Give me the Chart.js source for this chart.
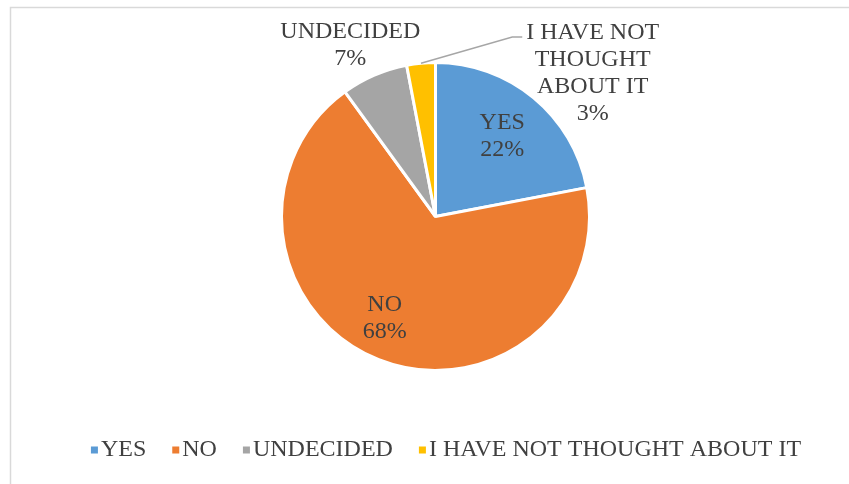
<!DOCTYPE html>
<html>
<head>
<meta charset="utf-8">
<script src="https://cdn.jsdelivr.net/npm/chart.js@4.4.1/dist/chart.umd.min.js"></script>
<style>
  html, body { margin: 0; padding: 0; background: #fff; }
  #wrap { position: relative; width: 849px; height: 484px; }
</style>
</head>
<body>
<div id="wrap"><canvas id="pieChart" width="849" height="484"></canvas></div>
<script>
const categories = ['YES', 'NO', 'UNDECIDED', 'I HAVE NOT THOUGHT ABOUT IT'];
const percentages = [22, 68, 7, 3];
const sliceColors = ['#5b9bd5', '#ed7d31', '#a5a5a5', '#ffc000'];

// where each data label goes, as a fraction of the radius (angle in degrees clockwise from 12 o'clock if moved)
const labelPlacement = [
  { dist: 0.68 },
  { dist: 0.74, angle: 206.5 },
  { dist: 1.24, angle: 333.5 },
  { dist: 1.38, angle: 47.7, leader: true }
];

const FONT = '"Liberation Serif", "Times New Roman", serif';
const TEXT_COLOR = '#404040';

function wrapText(ctx, text, maxWidth) {
  const words = text.split(' ');
  const lines = [];
  let line = '';
  words.forEach(w => {
    const test = line ? line + ' ' + w : w;
    if (line && ctx.measureText(test).width > maxWidth) {
      lines.push(line);
      line = w;
    } else {
      line = test;
    }
  });
  if (line) lines.push(line);
  return lines;
}

const framePlugin = {
  id: 'frame',
  beforeDraw(chart) {
    const ctx = chart.ctx;
    ctx.save();
    ctx.strokeStyle = '#d9d9d9';
    ctx.lineWidth = 1.5;
    ctx.beginPath();
    ctx.moveTo(10.5, chart.height + 5);
    ctx.lineTo(10.5, 7.5);
    ctx.lineTo(chart.width + 5, 7.5);
    ctx.stroke();
    ctx.restore();
  }
};

const labelPlugin = {
  id: 'sliceLabels',
  afterDatasetsDraw(chart) {
    const ctx = chart.ctx;
    const meta = chart.getDatasetMeta(0);
    ctx.save();
    ctx.font = '24px ' + FONT;
    ctx.fillStyle = TEXT_COLOR;
    ctx.textAlign = 'center';
    ctx.textBaseline = 'middle';
    const lineH = 27;
    meta.data.forEach((arc, i) => {
      const p = arc.getProps(['x', 'y', 'startAngle', 'endAngle', 'outerRadius'], true);
      const place = labelPlacement[i];
      const mid = (p.startAngle + p.endAngle) / 2;
      const ang = place.angle !== undefined ? (place.angle - 90) * Math.PI / 180 : mid;
      const cx = p.x + Math.cos(ang) * p.outerRadius * place.dist;
      const cy = p.y + Math.sin(ang) * p.outerRadius * place.dist;
      const lines = wrapText(ctx, categories[i], 145);
      lines.push(percentages[i] + '%');
      const top = cy - (lines.length - 1) * lineH / 2;
      lines.forEach((l, k) => ctx.fillText(l, cx, top + k * lineH));

      if (place.leader) {
        const firstW = ctx.measureText(lines[0]).width;
        const endX = cx - firstW / 2 - 4;
        const endY = top + 4;
        const sx = p.x + Math.cos(mid) * p.outerRadius;
        const sy = p.y + Math.sin(mid) * p.outerRadius;
        ctx.strokeStyle = '#a6a6a6';
        ctx.lineWidth = 1.5;
        ctx.beginPath();
        ctx.moveTo(sx, sy);
        ctx.lineTo(endX - 10, endY);
        ctx.lineTo(endX, endY);
        ctx.stroke();
      }
    });
    ctx.restore();
  }
};

const legendPlugin = {
  id: 'bottomLegend',
  afterDraw(chart) {
    const ctx = chart.ctx;
    ctx.save();
    ctx.font = '24px ' + FONT;
    ctx.textBaseline = 'middle';
    ctx.textAlign = 'left';
    const box = 7, boxGap = 3, itemGap = 26, y = 450;
    const widths = categories.map(c => box + boxGap + ctx.measureText(c).width);
    const total = widths.reduce((a, b) => a + b, 0) + itemGap * (categories.length - 1);
    let x = 446 - total / 2;
    categories.forEach((c, i) => {
      ctx.fillStyle = sliceColors[i];
      ctx.fillRect(x, y - box / 2, box, box);
      ctx.fillStyle = TEXT_COLOR;
      ctx.fillText(c, x + box + boxGap, y);
      x += widths[i] + itemGap;
    });
    ctx.restore();
  }
};

new Chart(document.getElementById('pieChart'), {
  type: 'pie',
  data: {
    labels: categories,
    datasets: [{
      data: percentages,
      backgroundColor: sliceColors,
      borderColor: '#ffffff',
      borderWidth: 3
    }]
  },
  options: {
    responsive: false,
    animation: false,
    layout: { padding: { top: 61, bottom: 112, left: 22, right: 0 } },
    plugins: {
      legend: { display: false },
      tooltip: { enabled: false }
    }
  },
  plugins: [framePlugin, labelPlugin, legendPlugin]
});
</script>
</body>
</html>
